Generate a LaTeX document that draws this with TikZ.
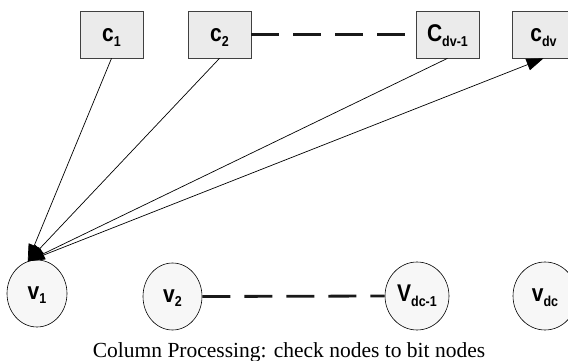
\documentclass[tikz,border=0pt]{standalone}
\usepackage{graphicx}
\usepackage{fontspec}
\setmainfont{Liberation Serif}
\newfontfamily\lblfont{Liberation Sans Bold}
\usetikzlibrary{arrows.meta,shapes.geometric}

% node label: bold sans letter with a lowered subscript
\newcommand{\lbl}[2]{{\lblfont\scalebox{1}[1.15]{\fontsize{21}{21}\selectfont #1\raisebox{-4pt}{\fontsize{12.5}{12.5}\selectfont #2}}}}

\tikzset{
  checkbox/.style={draw=black!75, fill=black!8, line width=0.7pt,
    minimum width=63pt, minimum height=47pt, inner sep=0pt,
    text height=14pt, text depth=0pt},
  bitnode/.style={ellipse, draw=black, fill=black!3, line width=0.6pt,
    inner sep=0pt, text height=11pt, text depth=0pt},
  msgedge/.style={line width=0.7pt, -{Triangle[length=17pt,width=12pt]}},
  gapline/.style={line width=2.8pt, black!90, dash pattern=on 28pt off 14pt}
}

\begin{document}
\begin{tikzpicture}[x=1pt,y=-1pt]
\useasboundingbox (0,0) rectangle (568,361);

% check nodes
\node[checkbox] (c1)   at (111.5,34.5) {\lbl{c}{1}};
\node[checkbox] (c2)   at (219.5,34.5) {\lbl{c}{2}};
\node[checkbox] (cdvm) at (447.5,34.5) {\lbl{C}{dv-1}};
\node[checkbox] (cdv)  at (543.5,34.5) {\lbl{c}{dv}};

% bit nodes
\node[bitnode, minimum width=60pt, minimum height=67pt] (v1)   at (37,293.5)  {\lbl{v}{1}};
\node[bitnode, minimum width=59pt, minimum height=67pt] (v2)   at (172.5,296.5) {\lbl{v}{2}};
\node[bitnode, minimum width=64pt, minimum height=68pt] (vdcm) at (417,296) {\lbl{V}{dc-1}};
\node[bitnode, minimum width=64pt, minimum height=68pt] (vdc)  at (545,296) {\lbl{v}{dc}};

% elided nodes
\draw[gapline] (c2.east) -- (cdvm.west);
\draw[gapline] (v2.east) -- (vdcm.west);

% messages into v1 and out to c_dv
\coordinate (v1in) at (v1.106);
\draw[msgedge] (c1.south) -- (v1in);
\draw[msgedge] (c2.south) -- (v1in);
\draw[msgedge] (cdvm.south) -- (v1in);
\draw[msgedge] (v1in) -- (cdv.south);

% caption
\node[anchor=base, inner sep=0pt, font=\fontsize{21.5}{24}\selectfont] (caption) at (289,357)
  {Column Processing: check nodes to bit nodes};
\end{tikzpicture}
\end{document}
